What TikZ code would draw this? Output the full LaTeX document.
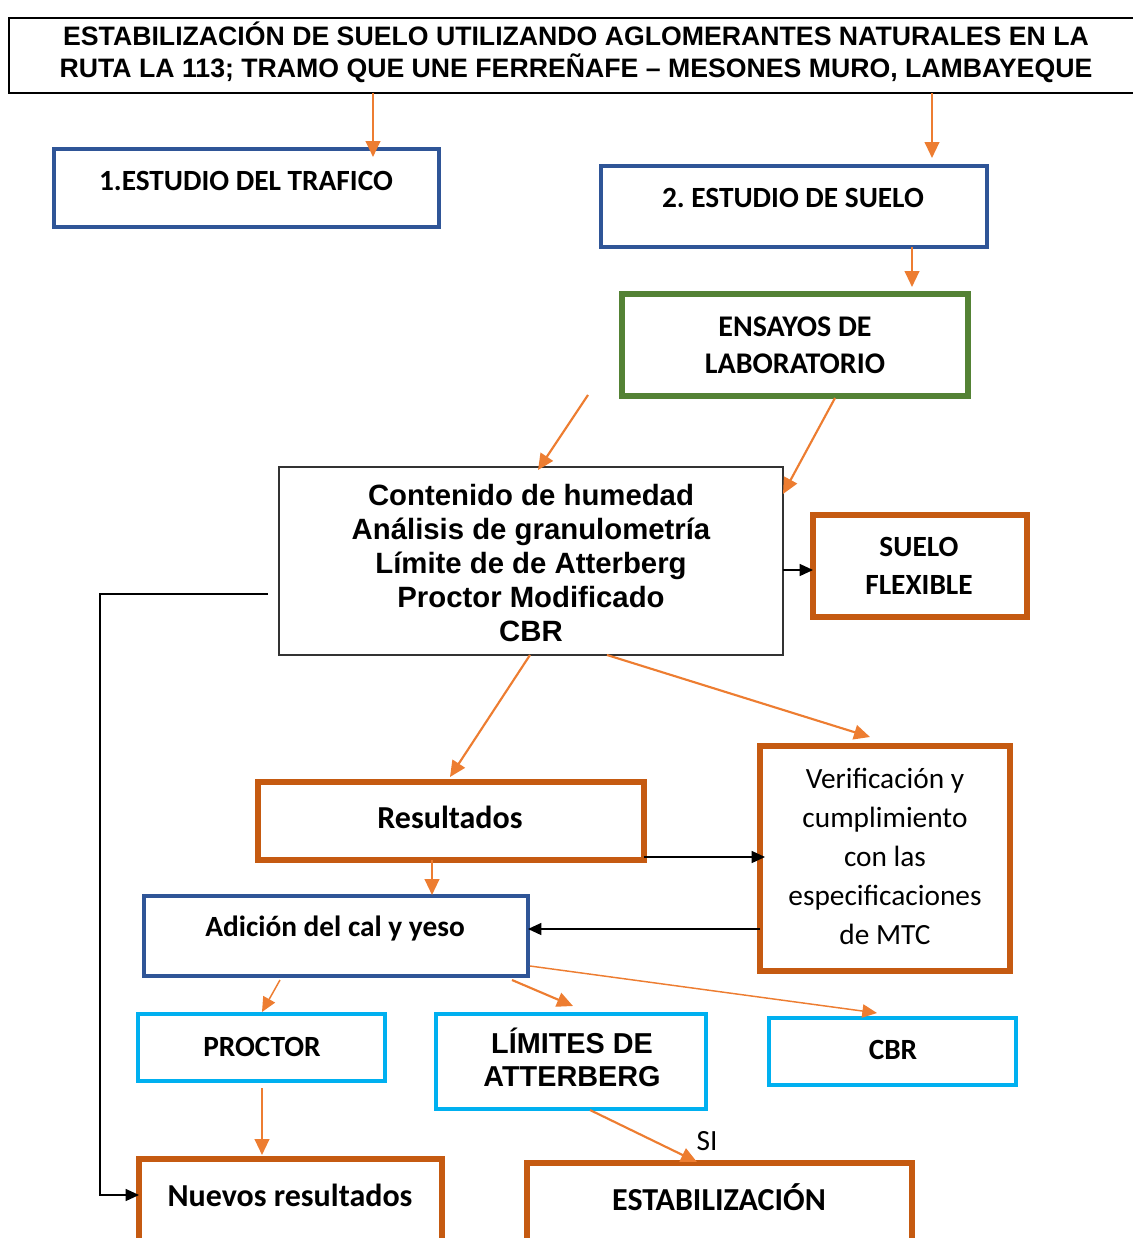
\documentclass[tikz,border=0pt]{standalone}
\usepackage{fontspec}
\setmainfont{Carlito}
\newfontfamily\arial{Liberation Sans}
\usetikzlibrary{arrows.meta,fit,calc}
\definecolor{cblue}{HTML}{2F5597}
\definecolor{cgreen}{HTML}{548235}
\definecolor{cbrown}{HTML}{C55A11}
\definecolor{ccyan}{HTML}{00B0F0}
\definecolor{corange}{HTML}{ED7D31}
\frenchspacing
\begin{document}
\begin{tikzpicture}[x=0.75pt,y=-0.75pt,
  boxbase/.style={inner sep=0pt,outer sep=0pt},
  titlebox/.style={boxbase,draw=black,line width=0.9pt},
  bluebox/.style={boxbase,draw=cblue,line width=3.2pt},
  greenbox/.style={boxbase,draw=cgreen,line width=3.8pt},
  brownbox/.style={boxbase,draw=cbrown,line width=3.8pt},
  cyanbox/.style={boxbase,draw=ccyan,line width=2.8pt},
  thinbox/.style={boxbase,draw=black!80,line width=0.9pt},
  cal/.style={font=\fontsize{22}{26}\selectfont\bfseries,inner sep=0pt,align=center},
  calbig/.style={font=\fontsize{24}{28}\selectfont\bfseries,inner sep=0pt,align=center},
  calr/.style={font=\fontsize{22}{29.25}\selectfont,inner sep=0pt,align=center},
  ari/.style={font=\arial\fontsize{22}{25.5}\selectfont\bfseries,inner sep=0pt,align=center},
  oarrow/.style={draw=corange,line width=1.6pt,-{Triangle[length=12pt,width=11pt]}},
  oarrowthin/.style={draw=corange,line width=1.1pt,-{Triangle[length=11pt,width=10pt]}},
  barrow/.style={draw=black,line width=1pt,-{Triangle[length=10pt,width=9pt]}}
]
\useasboundingbox (0,0) rectangle (1132,1238);

% boxes
\node[titlebox,fit={(9,18)(1140,93)}] (title) {};
\node[bluebox,fit={(54,149)(439,227)}] (b1) {};
\node[bluebox,fit={(601,166)(987,247)}] (b2) {};
\node[greenbox,fit={(622,294)(968,396)}] (b3) {};
\node[thinbox,fit={(279,467)(783,655)}] (big) {};
\node[brownbox,fit={(813,515)(1027,617)}] (flex) {};
\node[brownbox,fit={(258,782)(644,860)}] (res) {};
\node[brownbox,fit={(760,746)(1010,971)}] (ver) {};
\node[bluebox,fit={(144,896)(528,976)}] (add) {};
\node[cyanbox,fit={(138,1014)(385,1081)}] (proc) {};
\node[cyanbox,fit={(436,1014)(706,1109)}] (lim) {};
\node[cyanbox,fit={(769,1018)(1016,1085)}] (cbr) {};
\node[brownbox,fit={(139,1159)(442,1260)}] (nue) {};
\node[brownbox,fit={(527,1163)(912,1260)}] (est) {};

% texts
\node[font=\arial\fontsize{20}{24}\selectfont\bfseries,align=center,inner sep=0pt] (ttitle) at (576,52)
  {ESTABILIZACIÓN DE SUELO UTILIZANDO AGLOMERANTES NATURALES EN LA\\RUTA LA 113; TRAMO QUE UNE FERREÑAFE – MESONES MURO, LAMBAYEQUE};
\node[cal] (tb1) at (246,181) {1.ESTUDIO DEL TRAFICO};
\node[cal] (tb2) at (793,198) {2. ESTUDIO DE SUELO};
\node[cal,font=\fontsize{22.5}{27.75}\selectfont\bfseries] (tb3) at (795,345) {ENSAYOS DE\\LABORATORIO};
\node[ari] (tbig) at (531,563) {Contenido de humedad\\Análisis de granulometría\\Límite de de Atterberg\\Proctor Modificado\\CBR};
\node[cal,font=\fontsize{22}{28.5}\selectfont\bfseries] (tflex) at (919,566) {SUELO\\FLEXIBLE};
\node[calbig] (tres) at (450,817) {Resultados};
\node[calr] (tver) at (885,856) {Verificación y\\cumplimiento\\con las\\especificaciones\\de MTC};
\node[cal] (tadd) at (335,929) {Adición del cal y yeso};
\node[cal] (tproc) at (262,1047) {PROCTOR};
\node[ari,font=\arial\fontsize{21.6}{24.75}\selectfont\bfseries] (tlim) at (572,1057) {LÍMITES DE\\ATTERBERG};
\node[cal] (tcbr) at (893,1050) {CBR};
\node[calbig] (tnue) at (290,1195) {Nuevos resultados};
\node[calbig] (test) at (719,1197) {ESTABILIZACIÓN};
\node[font=\fontsize{22}{24}\selectfont,inner sep=0pt] (si) at (707,1141) {SI};

% connectors
\draw[oarrow] ($(title.south)+(-201.5,0)$) -- ($(b1.north)+(126.5,8)$);
\draw[oarrow] ($(title.south)+(357.5,0)$) -- ($(b2.north)+(138,-8)$);
\draw[oarrow] ($(b2.south)+(118,0)$) -- ($(b3.north)+(117,-7)$);
\coordinate (free1) at (588,395);
\draw[oarrow] (free1) -- ($(big.north)+(7,3)$);
\draw[oarrow] ($(b3.south)+(40,2)$) -- ($(big.north east)+(0,27)$);
\draw[barrow] ($(big.east)+(0,9)$) -- ($(flex.west)+(0,4)$);
\draw[oarrow] ($(big.south)+(-1,0)$) -- ($(res.north)+(-1,-5)$);
\draw[oarrow] ($(big.south)+(76,0)$) -- ($(ver.north)+(-15,-9)$);
\draw[barrow] ($(res.south east)+(0,-3)$) -- ($(ver.west)+(5,-1.5)$);
\draw[barrow] ($(ver.west)+(0,70.5)$) -- ($(add.east)+(0,-7)$);
\draw[oarrow] ($(res.south)+(-19,0)$) -- ($(add.north)+(96,-1)$);
\draw[oarrowthin] ($(add.south)+(-56,4)$) -- ($(proc.north)+(0.5,-2)$);
\draw[oarrow] ($(add.south)+(176,4)$) -- ($(lim.north)+(2,-8)$);
\draw[oarrowthin] ($(add.east)+(2,30)$) -- ($(cbr.north)+(-15.5,-5)$);
\draw[oarrow] ($(proc.south)+(0.5,7)$) -- ($(nue.north)+(-28.5,-4)$);
\draw[oarrow] ($(lim.south)+(19,1)$) -- ($(est.north)+(-22.5,-1)$);
\coordinate (fb) at ($(big.west)+(-11,33)$);
\draw[barrow] (fb) -- ++(-168,0) |- ($(nue.west)+(0,-14.5)$);
\end{tikzpicture}
\end{document}
